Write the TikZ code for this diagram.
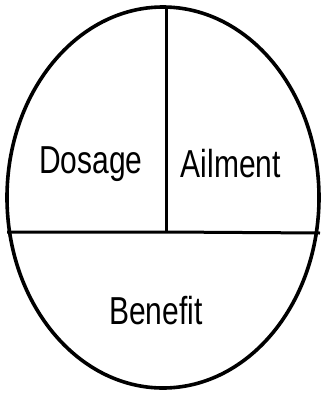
\documentclass[tikz,border=0pt]{standalone}
\usepackage{fontspec}
\setmainfont{Liberation Sans}
\usetikzlibrary{shapes.geometric}
\newcommand{\tallword}[1]{\scalebox{1}[1.3]{#1}}
\begin{document}
\begin{tikzpicture}[x=1pt,y=-1pt,
  outline/.style={line width=3.6pt},
  divider/.style={line width=3pt},
  lbl/.style={font=\fontsize{30}{34}\selectfont, anchor=base, inner sep=0pt}]
\useasboundingbox (0,0) rectangle (323,394);
\node[draw, outline, ellipse, minimum width=312pt, minimum height=381pt, inner sep=0pt] (oval) at (163,197.5) {};
\coordinate (top) at (166,7);
\coordinate (mid) at (166,232);
\coordinate (left) at (7,232);
\coordinate (right) at (320,233);
\draw[divider] (left) -- (mid) -- (right);
\draw[divider] (top) -- (mid);
\node[lbl] (dosage) at (91,173) {\tallword{Dosage}};
\node[lbl] (ailment) at (231,177) {\tallword{Ailment}};
\node[lbl] (benefit) at (156,324) {\tallword{Benefit}};
\end{tikzpicture}
\end{document}
